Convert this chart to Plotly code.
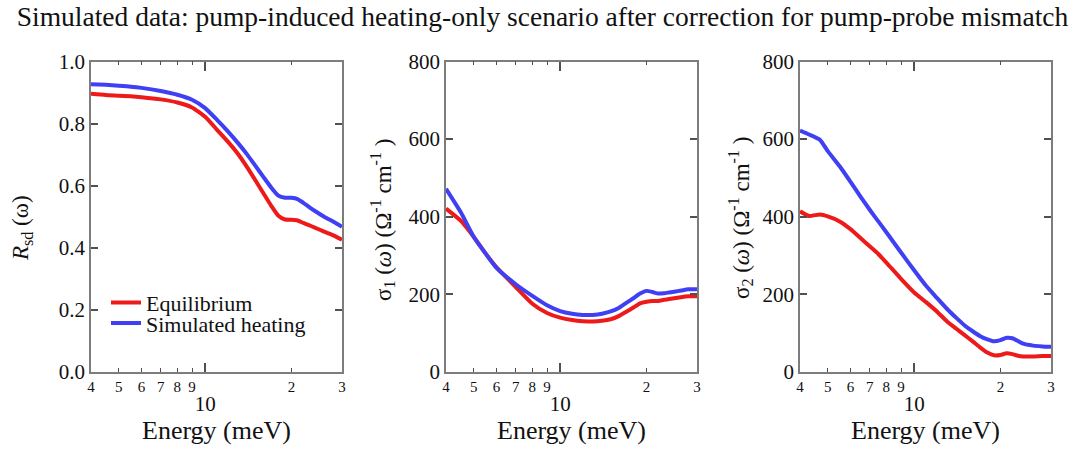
import plotly.graph_objects as go

# Photon energy grids (meV) for each panel
energy_r = [4, 4.5, 5, 5.5, 6, 7, 8, 9, 10, 11, 12, 13, 14, 15, 16, 17, 18, 19,
            20, 21, 22, 23, 24, 26, 28, 30]
energy_s1 = [4, 4.5, 5, 5.5, 6, 7, 8, 9, 10, 11, 12, 13, 14, 15, 16, 17, 18, 19,
             20, 21, 22, 23, 24, 26, 28, 30]
energy_s2 = [4, 4.3, 4.7, 5, 5.5, 6, 6.5, 7, 7.5, 8, 9, 10, 11, 12, 13, 14, 15,
             16, 17, 18, 19, 20, 21, 22, 23, 24, 26, 28, 30]

# Reflectivity R_sd(omega)
r_equilibrium = [0.896, 0.892, 0.890, 0.888, 0.885, 0.878, 0.868, 0.852, 0.822,
                 0.780, 0.742, 0.703, 0.660, 0.616, 0.574, 0.535, 0.503, 0.491,
                 0.490, 0.488, 0.480, 0.473, 0.466, 0.452, 0.440, 0.426]
r_heating = [0.927, 0.925, 0.922, 0.919, 0.915, 0.905, 0.893, 0.877, 0.850,
             0.812, 0.775, 0.738, 0.701, 0.663, 0.627, 0.594, 0.568, 0.561,
             0.561, 0.557, 0.545, 0.532, 0.520, 0.500, 0.484, 0.468]

# Real part of the optical conductivity sigma_1(omega)
sigma1_equilibrium = [421, 390, 348, 305, 270, 219, 176, 152, 140, 134, 131, 130,
                      132, 136, 144, 155, 166, 177, 181, 183, 183, 186, 188, 192,
                      195, 195]
sigma1_heating = [472, 412, 348, 305, 268, 226, 196, 172, 157, 150, 147, 147,
                  150, 156, 165, 178, 190, 202, 209, 206, 202, 203, 205, 209,
                  213, 213]

# Imaginary part of the optical conductivity sigma_2(omega)
sigma2_equilibrium = [414, 402, 406, 401, 388, 368, 345, 324, 304, 282, 240, 205,
                      180, 156, 131, 112, 95, 79, 63, 50, 43, 44, 48, 46, 42, 40,
                      40, 41, 41]
sigma2_heating = [622, 612, 598, 569, 530, 490, 452, 418, 388, 360, 308, 262,
                  222, 191, 163, 140, 120, 105, 92, 84, 79, 82, 88, 87, 80, 73,
                  68, 66, 65]

# Log-axis tick labels: single digits inside the decade, "10" for the decade
digit_ticks = [4, 5, 6, 7, 8, 9, 20, 30]
digit_labels = ["4", "5", "6", "7", "8", "9", "2", "3"]
decade_ticks = [10]
decade_labels = ["10"]

series_names = ["Equilibrium", "Simulated heating"]

SERIF = "Liberation Serif"
RED = "#ee1a1a"
BLUE = "#3f3ff4"
FRAME = "#7d7d7d"
TICK = "#505050"
TEXT = "#111111"

W, H = 1085, 453
x_domains = [(91 / W, 342 / W), (446 / W, 697 / W), (800 / W, 1051 / W)]
y_domain = (1 - 372 / H, 1 - 61.5 / H)
x_range = [0.60206, 1.47712]  # log10(4) .. log10(30)

panels = [
    dict(energy=energy_r, eq=r_equilibrium, heat=r_heating,
         yrange=[0, 1.0], dtick=0.2, fmt=".1f",
         ytitle="<i>R</i><sub>sd</sub> (ω)", title_x=22, title_y=228),
    dict(energy=energy_s1, eq=sigma1_equilibrium, heat=sigma1_heating,
         yrange=[0, 800], dtick=200, fmt="d",
         ytitle="σ<sub>1</sub> (<i>ω</i>) (Ω<sup>-1</sup> cm<sup>-1</sup> )",
         title_x=382, title_y=220),
    dict(energy=energy_s2, eq=sigma2_equilibrium, heat=sigma2_heating,
         yrange=[0, 800], dtick=200, fmt="d",
         ytitle="σ<sub>2</sub> (<i>ω</i>) (Ω<sup>-1</sup> cm<sup>-1</sup> )",
         title_x=740, title_y=218),
]

fig = go.Figure()
annotations = []

for i, p in enumerate(panels, start=1):
    xa, ya = f"x{i}", f"y{i}"
    for name, vals, color, leg in ((series_names[0], p["eq"], RED, "legend"),
                                   (series_names[1], p["heat"], BLUE, "legend2")):
        fig.add_trace(go.Scatter(
            x=p["energy"], y=vals, mode="lines", name=name,
            line=dict(color=color, width=4, shape="spline", smoothing=0.5),
            xaxis=xa, yaxis=ya, showlegend=(i == 1), legend=leg,
            hoverinfo="skip"))
    # carrier trace for the overlaid decade axis
    fig.add_trace(go.Scatter(x=[], y=[], xaxis=f"x{i + 3}", yaxis=ya,
                             showlegend=False, hoverinfo="skip"))

    fig.layout[f"xaxis{i}"] = dict(
        domain=x_domains[i - 1], anchor=ya, type="log", range=x_range,
        tickmode="array", tickvals=digit_ticks, ticktext=digit_labels,
        ticks="inside", ticklen=4, tickwidth=1.3, tickcolor=TICK,
        tickfont=dict(family=SERIF, size=15, color=TEXT),
        showline=True, linecolor=FRAME, linewidth=1.6, mirror="ticks",
        showgrid=False, zeroline=False, automargin=False)
    fig.layout[f"xaxis{i + 3}"] = dict(
        overlaying=xa, anchor=ya, type="log", range=x_range,
        tickmode="array", tickvals=decade_ticks, ticktext=decade_labels,
        ticks="inside", ticklen=9, tickwidth=1.5, tickcolor=TICK,
        tickfont=dict(family=SERIF, size=21, color=TEXT),
        ticklabelstandoff=17,
        showline=False, mirror="ticks", showgrid=False, zeroline=False,
        automargin=False)
    fig.layout[f"yaxis{i}"] = dict(
        domain=y_domain, anchor=xa, range=p["yrange"],
        tickmode="linear", tick0=0, dtick=p["dtick"], tickformat=p["fmt"],
        ticks="inside", ticklen=7, tickwidth=1.5, tickcolor=TICK,
        tickfont=dict(family=SERIF, size=21, color=TEXT),
        showline=True, linecolor=FRAME, linewidth=1.6, mirror="ticks",
        showgrid=False, zeroline=False, automargin=False)

    x0, x1 = x_domains[i - 1]
    annotations.append(dict(
        text="Energy (meV)", xref="paper", yref="paper",
        x=(x0 + x1) / 2, y=1 - 430 / H, xanchor="center", yanchor="middle",
        showarrow=False, font=dict(family=SERIF, size=26, color=TEXT)))
    annotations.append(dict(
        text=p["ytitle"], xref="paper", yref="paper", textangle=-90,
        x=p["title_x"] / W, y=1 - p["title_y"] / H,
        xanchor="center", yanchor="middle",
        showarrow=False, font=dict(family=SERIF, size=23, color=TEXT)))

legend_style = dict(font=dict(family=SERIF, size=22, color=TEXT),
                    bgcolor="rgba(0,0,0,0)", borderwidth=0,
                    xanchor="left", yanchor="middle", tracegroupgap=0)

fig.update_layout(
    width=W, height=H,
    margin=dict(l=0, r=0, t=0, b=0, pad=0, autoexpand=False),
    paper_bgcolor="white", plot_bgcolor="white",
    title=dict(text="Simulated data: pump-induced heating-only scenario after "
                    "correction for pump-probe mismatch",
               x=0.5, xanchor="center", y=1 - 16 / H, yanchor="middle",
               font=dict(family=SERIF, size=27.5, color=TEXT)),
    legend=dict(x=106 / W, y=1 - 302.7 / H, **legend_style),
    legend2=dict(x=106 / W, y=1 - 323.3 / H, **legend_style),
    annotations=annotations,
)

fig.write_html("out.html")
